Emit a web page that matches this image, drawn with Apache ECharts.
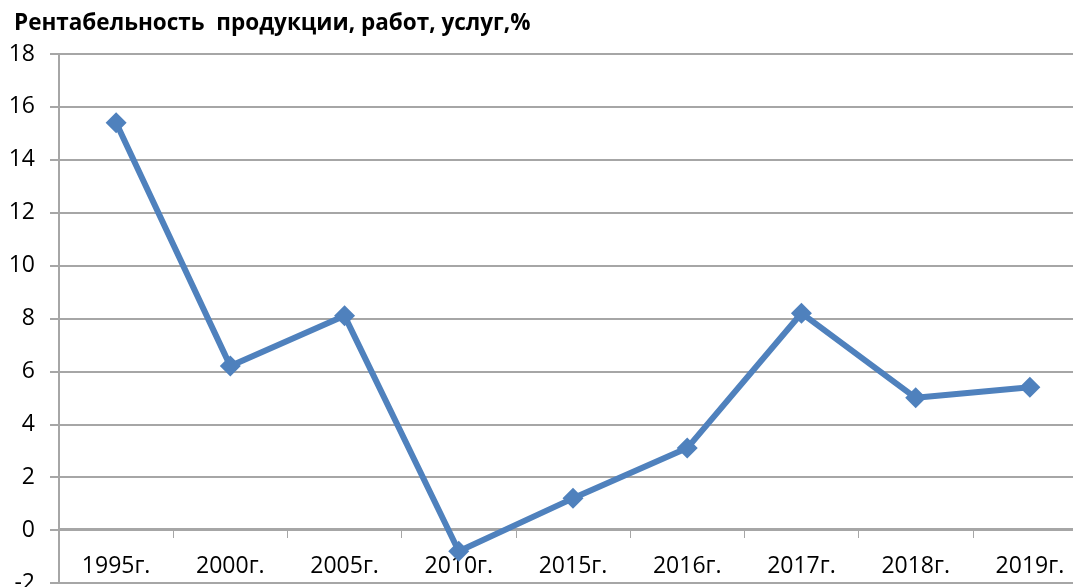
<!DOCTYPE html>
<html>
<head>
<meta charset="utf-8">
<script src="https://cdn.jsdelivr.net/npm/echarts@6/dist/echarts.min.js"></script>
<style>
  html, body { margin: 0; padding: 0; background: #fff; }
  #chart { width: 1073px; height: 587px; }
</style>
</head>
<body>
<div id="chart"></div>
<script>
const years = ['1995г.', '2000г.', '2005г.', '2010г.', '2015г.', '2016г.', '2017г.', '2018г.', '2019г.']
const profitability = [15.4, 6.2, 8.1, -0.8, 1.2, 3.1, 8.2, 5.0, 5.4]

const myChart = echarts.init(document.getElementById('chart'))
const option = {
  backgroundColor: '#fff',
  animation: false,
  title: {
    text: 'Рентабельность  продукции, работ, услуг,%',
    left: 9,
    top: 7,
    textStyle: {
      fontFamily: 'Open Sans',
      fontWeight: 'bold',
      fontSize: 22.5,
      color: '#000'
    }
  },
  grid: {
    left: 59,
    right: -14,
    top: 54,
    bottom: 4,
    containLabel: false,
    outerBoundsMode: 'none'
  },
  xAxis: {
    type: 'category',
    data: years,
    boundaryGap: true,
    // x axis sits on the zero line (2 units above the grid bottom)
    offset: -54,
    axisLine: { onZero: false, lineStyle: { color: '#a6a6a6', width: 2 } },
    axisTick: { show: true, length: 9, lineStyle: { color: '#a6a6a6', width: 1 } },
    axisLabel: {
      margin: 26,
      fontFamily: 'Open Sans',
      fontSize: 23,
      color: '#000'
    }
  },
  yAxis: {
    type: 'value',
    min: -2,
    max: 18,
    interval: 2,
    axisLine: { show: true, lineStyle: { color: '#a6a6a6', width: 2 } },
    axisTick: { show: true, length: 9, lineStyle: { color: '#a6a6a6', width: 2 } },
    splitLine: { show: true, lineStyle: { color: '#a6a6a6', width: 2 } },
    axisLabel: {
      margin: 24,
      fontFamily: 'Open Sans',
      fontSize: 23,
      color: '#000'
    }
  },
  series: [
    {
      type: 'line',
      data: profitability,
      symbol: 'diamond',
      symbolSize: 21,
      lineStyle: { color: '#4f81bd', width: 6 },
      itemStyle: { color: '#4f81bd' }
    }
  ]
}
myChart.setOption(option)
</script>
</body>
</html>
